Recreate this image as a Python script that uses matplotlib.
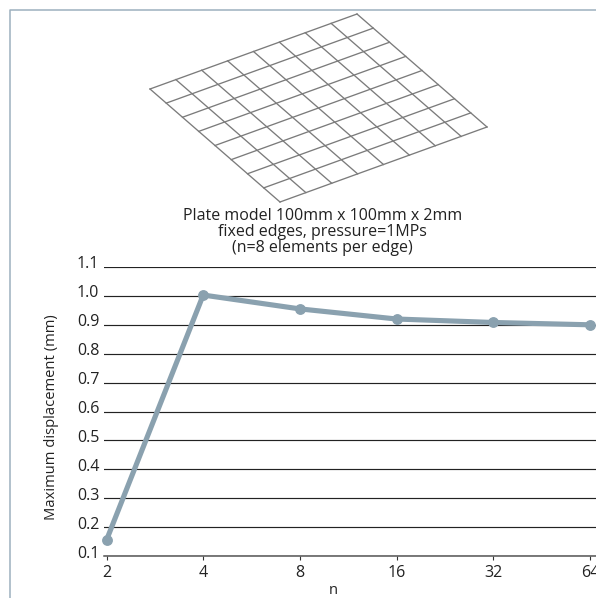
import matplotlib
matplotlib.use("Agg")
import matplotlib.pyplot as plt
from matplotlib.transforms import ScaledTranslation

W, H = 596, 598

# data
n_labels = ["2", "4", "8", "16", "32", "64"]
displacement = [0.155, 1.003, 0.955, 0.92, 0.908, 0.9]
y_ticks = [0.1, 0.2, 0.3, 0.4, 0.5, 0.6, 0.7, 0.8, 0.9, 1.0, 1.1]

# plate mesh, corners in picture pixels
elements = 8
mesh_top = (357, 14)
mesh_left = (150, 89)
mesh_bottom = (280, 202)

plt.rcParams['font.family'] = ['Open Sans', 'DejaVu Sans']
fig = plt.figure(figsize=(W / 100, H / 100), dpi=100)

# overlay in pixel coordinates for frame, mesh and title
bg = fig.add_axes([0, 0, 1, 1])
bg.set_xlim(0, W)
bg.set_ylim(H, 0)
bg.axis("off")

frame_color = "#9DB0BE"
bg.plot([9.5, 9.5, W], [H, 9.5, 9.5], color=frame_color, lw=1.1, solid_capstyle="butt")


def mesh_point(u, v):
    x = mesh_left[0] + u * (mesh_top[0] - mesh_left[0]) + v * (mesh_bottom[0] - mesh_left[0])
    y = mesh_left[1] + u * (mesh_top[1] - mesh_left[1]) + v * (mesh_bottom[1] - mesh_left[1])
    return x, y


for i in range(elements + 1):
    t = i / elements
    a, b = mesh_point(t, 0), mesh_point(t, 1)
    bg.plot([a[0], b[0]], [a[1], b[1]], color="#7b7b7b", lw=0.95)
    a, b = mesh_point(0, t), mesh_point(1, t)
    bg.plot([a[0], b[0]], [a[1], b[1]], color="#7b7b7b", lw=0.95)

text_color = "#222222"
bg.text(322.5, 216, "Plate model 100mm x 100mm x 2mm", ha="center", va="center", fontsize=11.5, color=text_color)
bg.text(322.5, 232, "fixed edges, pressure=1MPs", ha="center", va="center", fontsize=11.5, color=text_color)
bg.text(322.5, 248.5, "(n=8 elements per edge)", ha="center", va="center", fontsize=11.5, color=text_color)

# main chart
left, right, top, bottom = 104, 596, 267, 556
ax = fig.add_axes([left / W, 1 - bottom / H, (right - left) / W, (bottom - top) / H])
ax.patch.set_alpha(0)
x = list(range(len(n_labels)))
x0, step = 106.5, 96.7
ax.set_xlim((left - x0) / step, (right - x0) / step)
ax.set_ylim(0.1, 1.1)
for s in ax.spines.values():
    s.set_visible(False)
ax.spines["bottom"].set_visible(True)
ax.spines["bottom"].set_color("#555555")
ax.spines["bottom"].set_linewidth(1.1)
ax.set_axisbelow(True)
ax.set_yticks(y_ticks)
ax.set_yticklabels([f"{v:.1f}" for v in y_ticks])
ax.yaxis.grid(True, color="#222222", lw=0.85)
ax.tick_params(axis="y", length=0, pad=3.5, labelsize=11.5, labelcolor=text_color)
# the reference sets its y labels a little above the lines
for lab in ax.get_yticklabels():
    lab.set_transform(lab.get_transform() + ScaledTranslation(0, 0.045, fig.dpi_scale_trans))
ax.set_xticks(x)
ax.set_xticklabels(n_labels)
ax.tick_params(axis="x", length=3.2, width=0.8, color="#333333", pad=3, labelsize=11.5, labelcolor=text_color)
ax.plot(x, displacement, color="#8AA1AF", lw=3.7, marker="o", ms=6.8, mfc="#8AA1AF", mec="#8AA1AF",
        clip_on=False, zorder=5)

bg.text(333, 591, "n", ha="center", va="center", fontsize=10.5, color=text_color)
bg.text(52, 417, "Maximum displacement (mm)", ha="center", va="center", rotation=90, fontsize=10.6, color=text_color)

fig.savefig("out.png", dpi=100)
